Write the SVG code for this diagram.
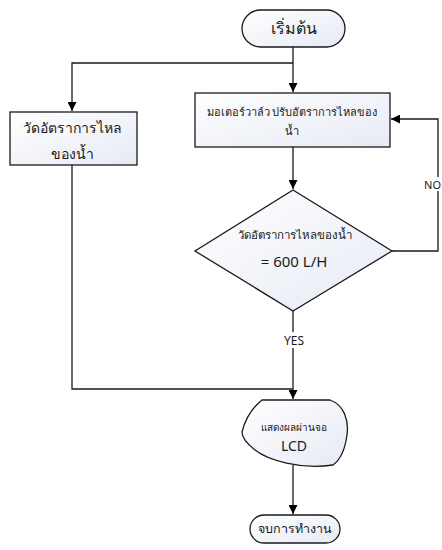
<svg xmlns="http://www.w3.org/2000/svg" width="442" height="550" viewBox="0 0 442 550">
<defs>
<linearGradient id="g" x1="0" y1="0" x2="1" y2="1">
<stop offset="0" stop-color="#ffffff"/>
<stop offset="1" stop-color="#e6eaf4"/>
</linearGradient>
<marker id="arr" viewBox="0 0 10 10" refX="10" refY="5" markerWidth="9" markerHeight="9" markerUnits="userSpaceOnUse" orient="auto">
<path d="M0,0 L10,5 L0,10 Z" fill="#000"/>
</marker>
<style>
.s{fill:url(#g);stroke:#1a1a1a;stroke-width:1.3}
.c{fill:none;stroke:#1a1a1a;stroke-width:1.3}
.t{font-family:"Noto Sans","DejaVu Sans","Liberation Sans",sans-serif;fill:#1a1a1a;text-anchor:middle}
</style>
</defs>
<rect width="442" height="550" fill="#fff"/>
<g id="connectors">
<path class="c" d="M293,47 V92" marker-end="url(#arr)"/>
<path class="c" d="M293,63 H72 V111" marker-end="url(#arr)"/>
<path class="c" d="M293,147 V189" marker-end="url(#arr)"/>
<path class="c" d="M392,251 H438 V119 H391" marker-end="url(#arr)"/>
<path class="c" d="M293,311 V399" marker-end="url(#arr)"/>
<path class="c" d="M72,165 V389 H293"/>
<path class="c" d="M293,465 V514" marker-end="url(#arr)"/>
<rect x="425" y="177" width="17" height="14" fill="#fff"/>
<text class="t" x="441" y="189" font-size="11" style="text-anchor:end">NO</text>
<rect x="281" y="332" width="26" height="16" fill="#fff"/>
<text class="t" x="294" y="345" font-size="12">YES</text>
</g>
<g id="start">
<rect class="s" x="242" y="10" width="103" height="37" rx="18.5"/>
<text class="t" x="294" y="34" font-size="16">เริ่มต้น</text>
</g>
<g id="measure">
<rect class="s" x="10" y="112" width="127" height="53"/>
<text class="t" x="72" y="133" font-size="14">วัดอัตราการไหล</text>
<text class="t" x="72" y="159" font-size="14">ของน้ำ</text>
</g>
<g id="motor">
<rect class="s" x="195" y="93" width="195" height="54"/>
<text class="t" x="292" y="116" font-size="11">มอเตอร์วาล์ว ปรับอัตราการไหลของ</text>
<text class="t" x="292" y="135" font-size="11">น้ำ</text>
</g>
<g id="decision">
<path class="s" d="M293,190 L392,251 L293,311 L195,251 Z"/>
<text class="t" x="295" y="239" font-size="11.5">วัดอัตราการไหลของน้ำ</text>
<text class="t" x="294" y="267" font-size="15">= 600 L/H</text>
</g>
<g id="display">
<path class="s" d="M262,400 H330 C344,405 349,420 347,435 C345,450 340,460 333,465 C300,470 268,460 255,450 C246,443 242,436 242,432 C245,420 252,408 262,400 Z"/>
<text class="t" x="294" y="431" font-size="10">แสดงผลผ่านจอ</text>
<text class="t" x="294" y="451" font-size="14">LCD</text>
</g>
<g id="end">
<rect class="s" x="250" y="515" width="90" height="28" rx="14"/>
<text class="t" x="295" y="533" font-size="12.5">จบการทำงาน</text>
</g>
</svg>
